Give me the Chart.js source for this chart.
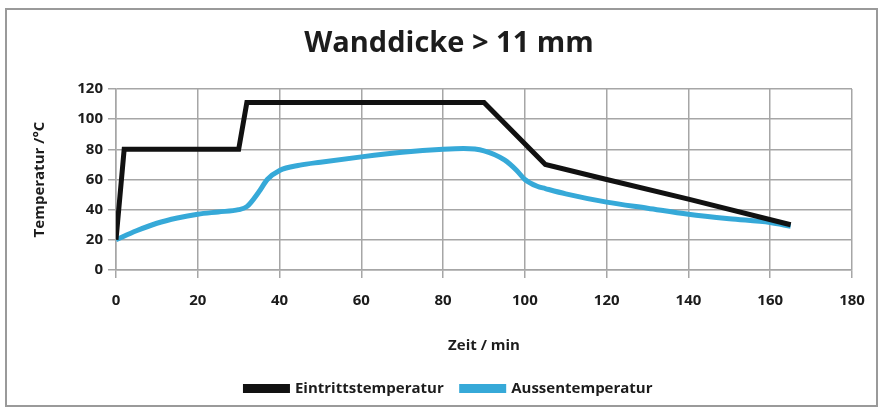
<!DOCTYPE html>
<html>
<head>
<meta charset="utf-8">
<script src="https://cdn.jsdelivr.net/npm/chart.js@4/dist/chart.umd.min.js"></script>
<style>
  html, body { margin: 0; padding: 0; background: #fff; }
  #wrap { width: 883px; height: 409px; position: relative; }
</style>
</head>
<body>
<div id="wrap"><canvas id="tempChart" width="883" height="409"></canvas></div>
<script>
// ========== DATA ==========
const chartTitle = 'Wanddicke > 11 mm';
const xTitle = 'Zeit / min';
const yTitle = 'Temperatur /°C';

const inletName = 'Eintrittstemperatur';
const inletTime = [0, 2, 30, 32, 90, 105, 120, 140, 165];
const inletTemp = [20, 80, 80, 111, 111, 70, 60, 47, 30];

const outerName = 'Aussentemperatur';
const outerTime = [0, 5, 10, 15, 20, 25, 30, 32, 35, 37, 40, 45, 50, 60, 70, 80, 85, 90, 95, 98, 100, 103, 105, 110, 120, 130, 140, 150, 160, 165];
const outerTemp = [20, 26, 31, 34.5, 37, 38.5, 40, 42, 52, 60, 66, 69.5, 71.5, 75, 78, 80, 80.5, 79, 73, 66, 60, 55.5, 54, 50.5, 45, 41, 37, 34, 31.5, 29];

const xTicks = [0, 20, 40, 60, 80, 100, 120, 140, 160, 180];
const yTicks = [0, 20, 40, 60, 80, 100, 120];

// ========== HELPERS ==========
function toPoints(xs, ys) {
    return xs.map((x, i) => ({ x: x, y: ys[i] }));
}

// grey frame around the whole chart
const frame = {
    id: 'frame',
    beforeDraw(chart) {
        const c = chart.ctx;
        c.save();
        c.fillStyle = '#fff';
        c.fillRect(0, 0, chart.width, chart.height);
        c.strokeStyle = '#9a9a9a';
        c.lineWidth = 2;
        c.strokeRect(6, 9, chart.width - 12, chart.height - 12);
        c.restore();
    }
};

const textColor = '#1c1c1c';
const gridColor = '#a6a6a6';
const tickFont = { family: 'Open Sans', size: 15, weight: 'bold' };

// ========== CHART ==========
new Chart(document.getElementById('tempChart').getContext('2d'), {
    type: 'line',
    data: {
        datasets: [{
            label: inletName,
            data: toPoints(inletTime, inletTemp),
            borderColor: '#111111',
            backgroundColor: '#111111',
            borderWidth: 5,
            pointRadius: 0,
            tension: 0
        }, {
            label: outerName,
            data: toPoints(outerTime, outerTemp),
            borderColor: '#36a9d8',
            backgroundColor: '#36a9d8',
            borderWidth: 5,
            pointRadius: 0,
            cubicInterpolationMode: 'monotone'
        }]
    },
    options: {
        responsive: false,
        animation: false,
        // left padding is wide so title/legend sit a bit right of canvas centre, like the original
        layout: { padding: { left: 46, right: 31, top: 10, bottom: 3 } },
        plugins: {
            title: {
                display: true,
                text: chartTitle,
                color: textColor,
                font: { family: 'Open Sans', size: 29, weight: 'bold', lineHeight: 1.2 },
                padding: { top: 16.6, bottom: 27.6 }
            },
            legend: {
                position: 'bottom',
                labels: {
                    color: textColor,
                    font: { family: 'Open Sans', size: 15, weight: 'bold' },
                    boxWidth: 42,
                    boxHeight: 4,
                    padding: 18
                }
            },
            tooltip: { enabled: false }
        },
        scales: {
            x: {
                type: 'linear',
                min: 0,
                max: 180,
                afterBuildTicks: axis => { axis.ticks = xTicks.map(v => ({ value: v })); },
                afterFit: axis => { axis.height = 93; },
                ticks: { color: textColor, font: tickFont, padding: 14 },
                grid: { color: gridColor, lineWidth: 1.5, tickLength: 8 },
                border: { color: gridColor, width: 1.5 },
                title: {
                    display: true,
                    text: xTitle,
                    color: textColor,
                    font: { family: 'Open Sans', size: 15, weight: 'bold', lineHeight: 1.2 },
                    padding: { top: 0, bottom: 8 }
                }
            },
            y: {
                min: 0,
                max: 120,
                afterBuildTicks: axis => { axis.ticks = yTicks.map(v => ({ value: v })); },
                afterFit: axis => { axis.width = 70; },
                ticks: { color: textColor, font: tickFont, padding: 5 },
                grid: { color: gridColor, lineWidth: 1.5, tickLength: 8 },
                border: { color: gridColor, width: 1.5 },
                title: {
                    display: true,
                    text: yTitle,
                    color: textColor,
                    font: { family: 'Open Sans', size: 15, weight: 'bold', lineHeight: 1.2 },
                    padding: { top: -15, bottom: 0 }
                }
            }
        }
    },
    plugins: [frame]
});
</script>
</body>
</html>
